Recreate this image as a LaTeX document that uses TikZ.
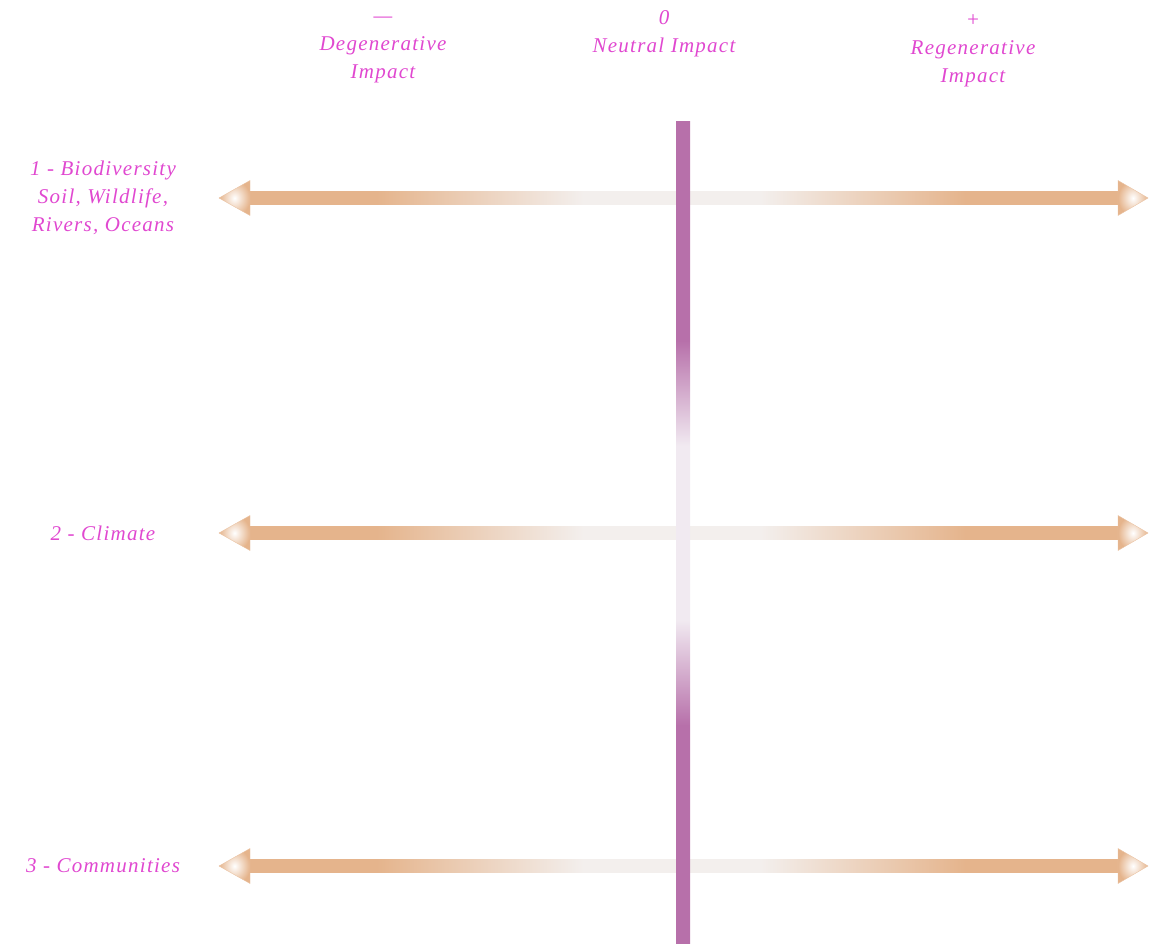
\documentclass[tikz,border=0pt]{standalone}
\usepackage{fontspec}
\setmainfont{Liberation Serif}
\usepackage{tikz}

\definecolor{axistan}{RGB}{229,180,140}
\definecolor{axisfade}{RGB}{243,239,237}
\definecolor{barpurple}{RGB}{183,112,170}
\definecolor{barfade}{RGB}{241,234,241}
\definecolor{labelpink}{RGB}{224,72,208}

% path box is mapped onto 25bp--75bp
\pgfdeclarehorizontalshading{shaftfade}{100bp}{color(0bp)=(axistan); color(32.3bp)=(axistan); color(44.2bp)=(axisfade); color(54.4bp)=(axisfade); color(66.2bp)=(axistan); color(100bp)=(axistan)}
\pgfdeclareverticalshading{barfade}{100bp}{color(0bp)=(barpurple); color(38.3bp)=(barpurple); color(44.7bp)=(barfade); color(55.3bp)=(barfade); color(61.7bp)=(barpurple); color(100bp)=(barpurple)}

\tikzset{
	impactlabel/.style={text=labelpink, font=\fontsize{21}{28}\selectfont\itshape\addfontfeatures{LetterSpace=6}, align=center, inner sep=0pt},
	arrowhead/.style={inner color=white, outer color=axistan, draw=axistan!80, line width=0.4pt},
}

\begin{document}
\begin{tikzpicture}[x=1pt, y=-1pt]
	\def\half{6.5};
	\def\headhalf{17.5};
	\useasboundingbox (0,0) rectangle (1154,944);

	% column headings
	\node[impactlabel] (degen) at (383,50) {---\\Degenerative\\Impact};
	\node[impactlabel] (neutral) at (664,34) {0\\Neutral Impact};
	\node[impactlabel] (regen) at (973,51) {+\\Regenerative\\Impact};

	% impact axes
	\foreach \name/\y/\txt in {bio/198/{1 - Biodiversity\\Soil, Wildlife,\\Rivers, Oceans}, clim/533/{2 - Climate}, comm/866/{3 - Communities}} {
		\node[impactlabel] (\name) at (103,\y) {\txt};
		\coordinate (\name-l) at (219,\y);
		\coordinate (\name-r) at (1148,\y);

		\shade[shading=shaftfade] (250,\y-\half) rectangle (1118,\y+\half);

		\begin{scope}
			\shade[arrowhead] (\name-l) -- (250,\y-\headhalf) -- (250,\y+\headhalf) -- cycle;
			\shade[arrowhead] (\name-r) -- (1118,\y-\headhalf) -- (1118,\y+\headhalf) -- cycle;
		\end{scope}
	}

	% neutral line
	\coordinate (bar-top) at (676,122);
	\coordinate (bar-bot) at (690,944);
	\shade[shading=barfade] (bar-top) rectangle (bar-bot);
\end{tikzpicture}
\end{document}
